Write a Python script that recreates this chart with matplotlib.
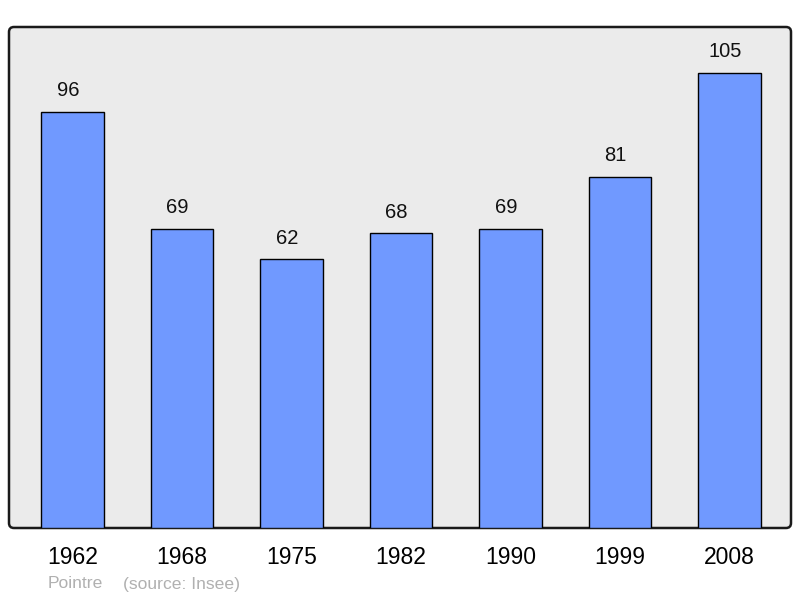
import matplotlib
matplotlib.use("Agg")
import matplotlib.pyplot as plt
from matplotlib.patches import FancyBboxPatch
from matplotlib.transforms import IdentityTransform, offset_copy

years = ["1962", "1968", "1975", "1982", "1990", "1999", "2008"]
population = [96, 69, 62, 68, 69, 81, 105]
commune = "Pointre"
source = "(source: Insee)"

plt.rcParams['font.family'] = ['Liberation Sans', 'DejaVu Sans']

W, H = 800, 598
fig = plt.figure(figsize=(W / 100, H / 100), dpi=100)
left, right, top, bottom = 9, 791, 27, 528
ax = fig.add_axes([left / W, 1 - bottom / H, (right - left) / W, (bottom - top) / H])
ax.set_facecolor("none")
for s in ax.spines.values():
    s.set_visible(False)

frame = FancyBboxPatch((left, H - bottom), right - left, bottom - top,
                       boxstyle="round,pad=0,rounding_size=5",
                       transform=IdentityTransform(), facecolor="#ebebeb",
                       edgecolor="#1a1a1a", linewidth=1.8, zorder=0, clip_on=False)
ax.add_patch(frame)

x = list(range(len(years)))
ax.bar(x, population, width=0.57, color="#7099ff", edgecolor="black",
       linewidth=1.0, zorder=2)
label_tr = offset_copy(ax.transData, fig=fig, x=-4.5, y=0, units="dots")
for xi, v in zip(x, population):
    ax.text(xi, v + 2.7, str(v), ha="center", va="bottom", fontsize=14.5,
            color="#111111", zorder=3, transform=label_tr)

ax.set_xlim(-0.58, 6.562)
ax.set_ylim(0, 115.6)
ax.set_yticks([])
ax.set_xticks(x)
ax.set_xticklabels(years, fontsize=16.5)
ax.tick_params(axis="x", length=0, pad=13)

fig.text(48 / W, 1 - 584 / H, commune, fontsize=12.6, color="#b0b0b0", va="center", ha="left")
fig.text(123 / W, 1 - 584 / H, source, fontsize=12.6, color="#b0b0b0", va="center", ha="left")

fig.savefig("out.png", dpi=100)
